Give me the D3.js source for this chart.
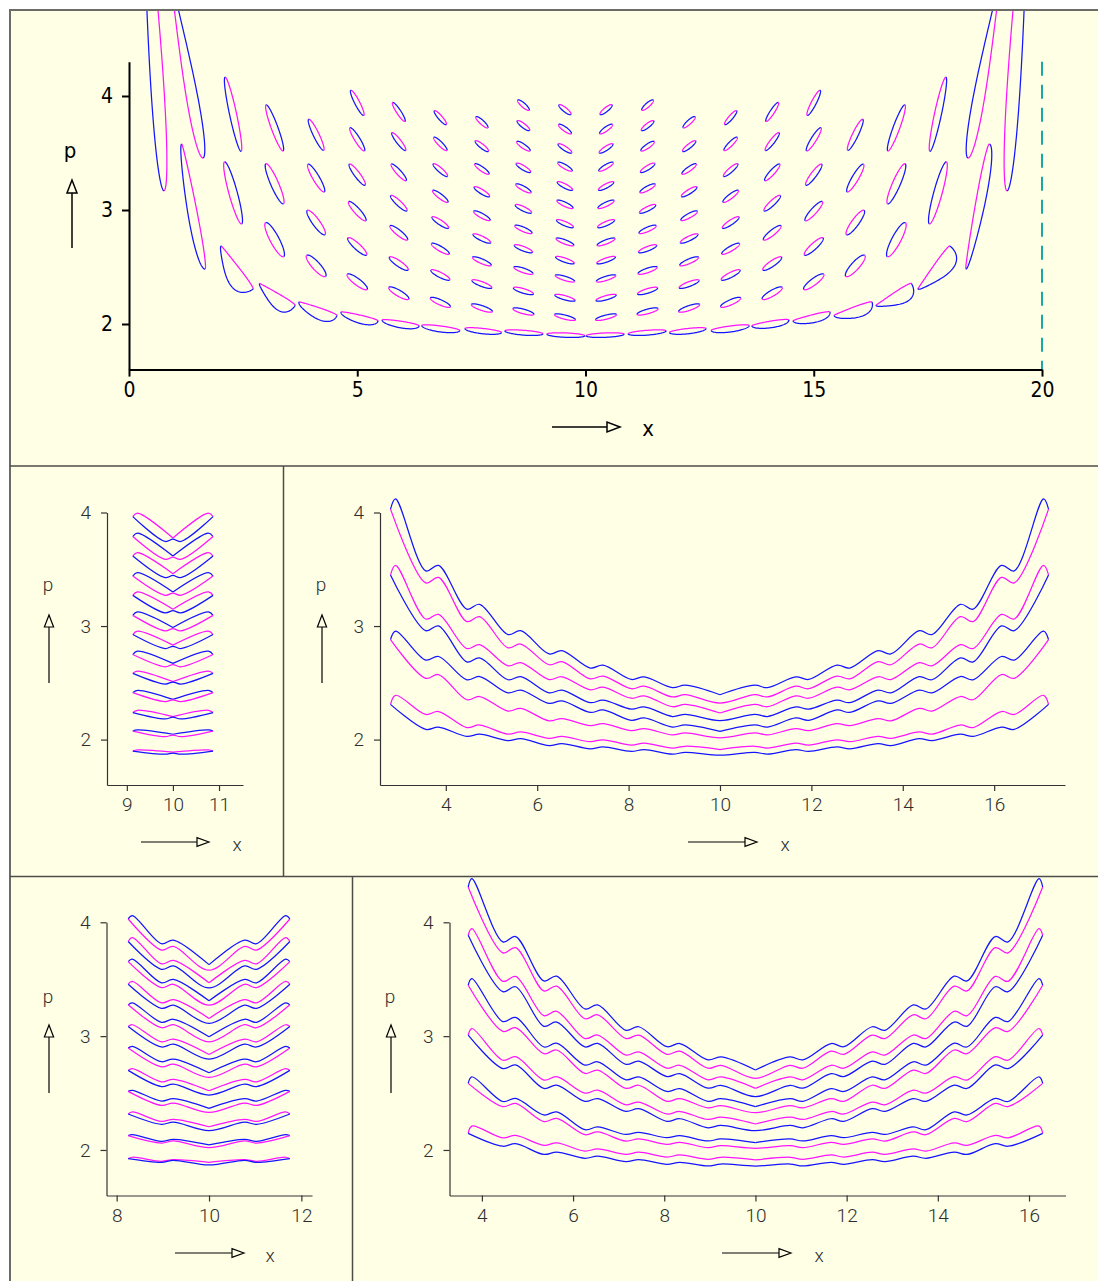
<!DOCTYPE html>
<html>
<head>
<meta charset="utf-8">
<script src="https://cdn.jsdelivr.net/npm/d3@7"></script>
<style>
  html, body { margin: 0; padding: 0; background: #ffffff; }
  svg { display: block; }
</style>
</head>
<body>
<script>
// ------------------------------------------------------------------
// Phase-space portraits (x, p) of a particle between walls at x = 0 and 20
// ------------------------------------------------------------------

// ---------- top panel: chains of resonance islands ----------
const islandColumnX = [2.28, 3.19, 4.10, 5.00, 5.91, 6.82, 7.73, 8.64, 9.55,
                       10.45, 11.36, 12.27, 13.18, 14.09, 15.00, 15.91, 16.81, 17.72];
// island centres in each column, top to bottom (the lowest chain is listed separately)
const islandColumnP = [
  [3.84, 3.15],
  [3.72, 3.23, 2.74],
  [3.66, 3.28, 2.89, 2.51],
  [3.94, 3.62, 3.31, 2.99, 2.68, 2.37],
  [3.86, 3.60, 3.33, 3.06, 2.80, 2.53, 2.27],
  [3.81, 3.58, 3.35, 3.12, 2.89, 2.66, 2.43, 2.19],
  [3.77, 3.56, 3.36, 3.16, 2.95, 2.75, 2.55, 2.35, 2.14],
  [3.92, 3.74, 3.56, 3.37, 3.19, 3.01, 2.83, 2.66, 2.47, 2.29, 2.11],
  [3.88, 3.71, 3.54, 3.38, 3.21, 3.05, 2.88, 2.72, 2.56, 2.40, 2.23, 2.06],
  [3.88, 3.71, 3.54, 3.38, 3.21, 3.05, 2.88, 2.72, 2.56, 2.40, 2.23, 2.06],
  [3.92, 3.74, 3.56, 3.37, 3.19, 3.01, 2.83, 2.66, 2.47, 2.29, 2.11],
  [3.77, 3.56, 3.36, 3.16, 2.95, 2.75, 2.55, 2.35, 2.14],
  [3.81, 3.58, 3.35, 3.12, 2.89, 2.66, 2.43, 2.19],
  [3.86, 3.60, 3.33, 3.06, 2.80, 2.53, 2.27],
  [3.94, 3.62, 3.31, 2.99, 2.68, 2.37],
  [3.66, 3.28, 2.89, 2.51],
  [3.72, 3.23, 2.74],
  [3.84, 3.15]
];
// half-axis (dx, dp) of the top and of the lowest island of each column
const islandReachTop = [
  [0.175, -0.325], [0.186, -0.202], [0.164, -0.136], [0.142, -0.110], [0.136, -0.083],
  [0.131, -0.061], [0.131, -0.048], [0.125, -0.044], [0.131, -0.042],
  [0.131, 0.042], [0.125, 0.044], [0.131, 0.048], [0.131, 0.061], [0.136, 0.083],
  [0.142, 0.110], [0.164, 0.136], [0.186, 0.202], [0.175, 0.325]
];
const islandReachLow = [
  [0.186, -0.272], [0.197, -0.149], [0.208, -0.092], [0.219, -0.066], [0.219, -0.051],
  [0.219, -0.039], [0.230, -0.031], [0.230, -0.025], [0.230, -0.023],
  [0.230, 0.023], [0.230, 0.025], [0.230, 0.031], [0.219, 0.039], [0.219, 0.051],
  [0.219, 0.066], [0.208, 0.092], [0.197, 0.149], [0.186, 0.272]
];
// lowest chain of islands (the U-shaped bottom row)
const chainX = [1.41, 2.37, 3.25, 4.14, 5.05, 5.95, 6.83, 7.76, 8.65, 9.57,
                10.43, 11.35, 12.24, 13.17, 14.05, 14.95, 15.86, 16.75, 17.63, 18.59];
const chainP = [3.03, 2.496, 2.259, 2.134, 2.066, 2.009, 1.965, 1.943, 1.927, 1.904,
                1.904, 1.927, 1.943, 1.965, 2.009, 2.066, 2.134, 2.259, 2.496, 3.03];
const chainReach = [
  [0.256, -0.548], [0.350, -0.189], [0.389, -0.0965], [0.416, -0.0592], [0.405, -0.039],
  [0.405, -0.026], [0.416, -0.022], [0.400, -0.0175], [0.416, -0.013], [0.416, -0.007],
  [0.416, 0.007], [0.416, 0.013], [0.400, 0.0175], [0.416, 0.022], [0.405, 0.026],
  [0.405, 0.039], [0.416, 0.0592], [0.389, 0.0965], [0.350, 0.189], [0.256, 0.548]
];
// long loops hugging the walls (they run off the top of the frame)
const wallLoopX = [0.416, 1.117, 18.883, 19.584];
const wallLoopP = [5.368, 4.579, 4.579, 5.368];
const wallLoopReach = [[0.35, -2.20], [0.504, -1.123], [-0.504, -1.123], [-0.35, -2.20]];
const wallLoopRank = [0, 1, 1, 0];

// ---------- middle-left panel ----------
const mlUpperX = [10];
const mlLowerX = [9.83, 10, 10.17];
const mlEndX = [9.13, 10.87];
const mlPeakX = [9.23, 10.77];
const mlEndP  = [3.964, 3.788, 3.616, 3.440, 3.270, 3.094, 2.925, 2.749, 2.583, 2.413, 2.238, 2.075, 1.899];
const mlPeakP = [3.994, 3.818, 3.646, 3.470, 3.300, 3.124, 2.955, 2.779, 2.603, 2.433, 2.258, 2.085, 1.909];
const mlUpper = [[3.775], [3.616], [3.461], [3.300], [3.148], [2.987], [2.832], [2.671],
                 [2.510], [2.354], [2.202], [2.047], [1.889]];
const mlLower = [
  [3.745, 3.765, 3.745], [3.587, 3.607, 3.587], [3.426, 3.446, 3.426], [3.271, 3.291, 3.271],
  [3.116, 3.136, 3.116], [2.958, 2.978, 2.958], [2.802, 2.822, 2.802], [2.641, 2.661, 2.641],
  [2.489, 2.507, 2.489], [2.334, 2.350, 2.334], [2.182, 2.197, 2.182], [2.026, 2.040, 2.026],
  [1.871, 1.881, 1.871]
];

// ---------- middle-right panel ----------
const mrNotchX = [3.7, 4.6, 5.5, 6.4, 7.3, 8.2, 9.1, 10, 10.9, 11.8, 12.7, 13.6, 14.5, 15.4, 16.3];
const mrEndX = [2.79, 17.19];
const mrPeakX = [2.90, 17.08];
const mrEndP  = [4.03, 3.45, 2.88, 2.31];
const mrPeakP = [4.12, 3.535, 2.956, 2.39];
const mrUpper = [
  [3.51, 3.17, 2.942, 2.769, 2.643, 2.541, 2.468, 2.395, 2.468, 2.541, 2.643, 2.769, 2.942, 3.17, 3.51],
  [3.082, 2.819, 2.664, 2.541, 2.45, 2.375, 2.30, 2.234, 2.30, 2.375, 2.45, 2.541, 2.664, 2.819, 3.082],
  [2.716, 2.541, 2.424, 2.33, 2.25, 2.18, 2.12, 2.073, 2.12, 2.18, 2.25, 2.33, 2.424, 2.541, 2.716],
  [2.234, 2.117, 2.058, 2.02, 1.99, 1.96, 1.933, 1.912, 1.933, 1.96, 1.99, 2.02, 2.058, 2.117, 2.234]
];
const mrLower = [
  [3.404, 3.061, 2.825, 2.673, 2.547, 2.459, 2.386, 2.322, 2.386, 2.459, 2.547, 2.673, 2.825, 3.061, 3.404],
  [2.98, 2.702, 2.541, 2.424, 2.336, 2.278, 2.213, 2.167, 2.213, 2.278, 2.336, 2.424, 2.541, 2.702, 2.98],
  [2.556, 2.365, 2.263, 2.175, 2.132, 2.088, 2.05, 2.015, 2.05, 2.088, 2.132, 2.175, 2.263, 2.365, 2.556],
  [2.10, 2.038, 2.0, 1.956, 1.927, 1.904, 1.88, 1.863, 1.88, 1.904, 1.927, 1.956, 2.0, 2.038, 2.10]
];

// ---------- bottom-left panel ----------
const blNotchX = [9.1, 10, 10.9];
const blEndX = [8.25, 11.75];
const blPeakX = [8.34, 11.66];
const blEndP  = [4.029, 3.831, 3.655, 3.456, 3.275, 3.085, 2.895, 2.699, 2.515, 2.316, 2.126, 1.924];
const blPeakP = [4.059, 3.866, 3.676, 3.480, 3.293, 3.100, 2.910, 2.714, 2.524, 2.334, 2.135, 1.936];
const blUpper = [
  [3.828, 3.628, 3.828], [3.650, 3.468, 3.650], [3.483, 3.310, 3.483], [3.306, 3.155, 3.306],
  [3.135, 2.994, 3.135], [2.962, 2.839, 2.962], [2.787, 2.678, 2.787], [2.610, 2.520, 2.610],
  [2.440, 2.365, 2.440], [2.260, 2.204, 2.260], [2.085, 2.044, 2.085], [1.908, 1.892, 1.908]
];
const blLower = [
  [3.772, 3.579, 3.772], [3.602, 3.424, 3.602], [3.441, 3.272, 3.441], [3.258, 3.111, 3.258],
  [3.087, 2.950, 3.087], [2.917, 2.798, 2.917], [2.742, 2.637, 2.742], [2.568, 2.482, 2.568],
  [2.402, 2.330, 2.402], [2.235, 2.170, 2.235], [2.070, 2.020, 2.070], [1.900, 1.868, 1.900]
];

// ---------- bottom-right panel ----------
const brNotchX = [4.6, 5.5, 6.4, 7.3, 8.2, 9.1, 10, 10.9, 11.8, 12.7, 13.6, 14.5, 15.4];
const brEndX = [3.70, 16.30];
const brPeakX = [3.78, 16.22];
const brEndP  = [4.31, 3.886, 3.447, 3.009, 2.585, 2.146];
const brPeakP = [4.383, 3.944, 3.506, 3.067, 2.643, 2.21];
const brUpper = [
  [3.851, 3.506, 3.257, 3.067, 2.921, 2.804, 2.702, 2.804, 2.921, 3.067, 3.257, 3.506, 3.851],
  [3.503, 3.199, 2.994, 2.848, 2.731, 2.629, 2.541, 2.629, 2.731, 2.848, 2.994, 3.199, 3.503],
  [3.146, 2.921, 2.760, 2.629, 2.526, 2.439, 2.380, 2.439, 2.526, 2.629, 2.760, 2.921, 3.146],
  [2.804, 2.629, 2.512, 2.409, 2.327, 2.278, 2.228, 2.278, 2.327, 2.409, 2.512, 2.629, 2.804],
  [2.439, 2.321, 2.190, 2.146, 2.117, 2.088, 2.064, 2.088, 2.117, 2.146, 2.190, 2.321, 2.439],
  [2.117, 2.052, 2.000, 1.971, 1.947, 1.927, 1.912, 1.927, 1.947, 1.971, 2.000, 2.052, 2.117]
];
const brLower = [
  [3.754, 3.418, 3.170, 2.994, 2.854, 2.731, 2.629, 2.731, 2.854, 2.994, 3.170, 3.418, 3.754],
  [3.412, 3.105, 2.921, 2.766, 2.658, 2.555, 2.468, 2.555, 2.658, 2.766, 2.921, 3.105, 3.412],
  [3.058, 2.862, 2.687, 2.555, 2.439, 2.380, 2.327, 2.380, 2.439, 2.555, 2.687, 2.862, 3.058],
  [2.731, 2.555, 2.439, 2.351, 2.263, 2.205, 2.170, 2.205, 2.263, 2.351, 2.439, 2.555, 2.731],
  [2.395, 2.263, 2.146, 2.088, 2.058, 2.029, 2.015, 2.029, 2.058, 2.088, 2.146, 2.263, 2.395],
  [2.044, 1.971, 1.936, 1.906, 1.883, 1.868, 1.859, 1.868, 1.883, 1.906, 1.936, 1.971, 2.044]
];

// ---------- tick labels ----------
const topXTicks = [0, 5, 10, 15, 20];
const pTicks = [2, 3, 4];
const mlXTicks = [9, 10, 11];
const mrXTicks = [4, 6, 8, 10, 12, 14, 16];
const blXTicks = [8, 10, 12];
const brXTicks = [4, 6, 8, 10, 12, 14, 16];

// ------------------------------------------------------------------
// styling and layout
// ------------------------------------------------------------------
const PAL = {
  page: '#ffffe6', frame: '#6c6c66', divider: '#4c4c48',
  blue: '#1414ff', magenta: '#ff14ff', wall: '#17a8a8',
  ink: '#000000', inkLight: '#2e2e2e'
};
const CURVE_W = 1.25;
const FONT_TOP = '"DejaVu Sans Condensed", "Liberation Sans", sans-serif';
const FONT_THIN = 'Roboto, "DejaVu Sans Condensed", sans-serif';

// outline thickness of the top-panel islands (px): [top island, lowest island] per column
const islandHalfWidth = [
  [3.5, 4.2], [3.3, 4.5], [2.9, 4.0], [2.5, 3.3], [2.2, 3.0], [2.1, 2.6], [2.1, 2.4], [2.1, 2.3], [2.1, 2.1],
  [2.1, 2.1], [2.1, 2.3], [2.1, 2.4], [2.1, 2.6], [2.2, 3.0], [2.5, 3.3], [2.9, 4.0], [3.3, 4.5], [3.5, 4.2]
];
// lowest chain: [upper half-width, lower half-width, egg factor]
const chainShape = [
  [2.6, 6.5, 0.3], [1.2, 14, 0.6], [1.2, 11.5, 0.6], [1.3, 9.5, 0.35], [1.5, 6.5, 0.2],
  [1.8, 4.8, 0.1], [2.0, 4.0, 0], [2.0, 3.3, 0], [2.0, 2.8, 0], [2.0, 2.4, 0],
  [2.0, 2.4, 0], [2.0, 2.8, 0], [2.0, 3.3, 0], [2.0, 4.0, 0], [1.8, 4.8, 0.1],
  [1.5, 6.5, 0.2], [1.3, 9.5, 0.35], [1.2, 11.5, 0.6], [1.2, 14, 0.6], [2.6, 6.5, 0.3]
];
const wallLoopShape = [[3.7, 2.0], [3.1, 2.2], [3.1, 2.2], [3.7, 2.0]];

const W = 1098, H = 1281;
const svg = d3.select('body').append('svg')
  .attr('width', W).attr('height', H)
  .attr('viewBox', `0 0 ${W} ${H}`);

// page and frame
svg.append('rect').attr('x', 0).attr('y', 0).attr('width', W).attr('height', H).attr('fill', '#ffffff');
svg.append('rect').attr('x', 10).attr('y', 10).attr('width', W + 20).attr('height', H + 20)
  .attr('fill', PAL.page).attr('stroke', PAL.frame).attr('stroke-width', 2);
const dividers = svg.append('g').attr('stroke', PAL.divider).attr('stroke-width', 1.5);
dividers.append('line').attr('x1', 10).attr('x2', W).attr('y1', 466).attr('y2', 466);
dividers.append('line').attr('x1', 10).attr('x2', W).attr('y1', 876.5).attr('y2', 876.5);
dividers.append('line').attr('x1', 283.5).attr('x2', 283.5).attr('y1', 466).attr('y2', 876.5);
dividers.append('line').attr('x1', 352.5).attr('x2', 352.5).attr('y1', 876.5).attr('y2', H);

// ------------------------------------------------------------------
// helpers
// ------------------------------------------------------------------
function drawAxes(g, xs, ps, xTicks, st) {
  const ax = d3.axisBottom(xs).tickValues(xTicks).tickSize(st.tick).tickSizeOuter(0)
    .tickPadding(st.xPad).tickFormat(d3.format('d'));
  const ay = d3.axisLeft(ps).tickValues(pTicks).tickSize(st.tick).tickSizeOuter(0)
    .tickPadding(st.yPad).tickFormat(d3.format('d'));
  const gx = g.append('g').attr('transform', `translate(0,${ps.range()[0]})`).call(ax);
  const gy = g.append('g').attr('transform', `translate(${xs.range()[0]},0)`).call(ay);
  [gx, gy].forEach(a => {
    a.select('.domain').attr('stroke', st.color).attr('stroke-width', st.width);
    a.selectAll('.tick line').attr('stroke', st.color).attr('stroke-width', st.width);
    a.selectAll('.tick text').attr('font-family', st.font).attr('font-size', st.size)
      .attr('font-weight', st.weight).attr('fill', st.textColor);
  });
}

function arrowUp(g, x, yBottom, yTip, head, half, sw) {
  g.append('line').attr('x1', x).attr('x2', x).attr('y1', yBottom).attr('y2', yTip + head)
    .attr('stroke', PAL.ink).attr('stroke-width', sw);
  g.append('path').attr('d', `M${x},${yTip}L${x - half},${yTip + head}L${x + half},${yTip + head}Z`)
    .attr('fill', PAL.page).attr('stroke', PAL.ink).attr('stroke-width', sw);
}
function arrowRight(g, xStart, xTip, y, head, half, sw) {
  g.append('line').attr('x1', xStart).attr('x2', xTip - head).attr('y1', y).attr('y2', y)
    .attr('stroke', PAL.ink).attr('stroke-width', sw);
  g.append('path').attr('d', `M${xTip},${y}L${xTip - head},${y - half}L${xTip - head},${y + half}Z`)
    .attr('fill', PAL.page).attr('stroke', PAL.ink).attr('stroke-width', sw);
}
function label(g, text, x, y, st) {
  g.append('text').attr('x', x).attr('y', y).attr('text-anchor', 'middle')
    .attr('font-family', st.font).attr('font-size', st.size).attr('font-weight', st.weight)
    .attr('fill', st.textColor).text(text);
}

// island outline split along its long axis into an upper and a lower half
function drawIsland(g, xs, ps, cx, cp, reach, bUp, bLow, egg, rank) {
  const X0 = xs(cx), Y0 = ps(cp);
  const Tx = xs(cx + reach[0]) - X0, Ty = ps(cp + reach[1]) - Y0;
  const L = Math.hypot(Tx, Ty);
  let Nx = Ty / L, Ny = -Tx / L;
  if (Ny > 0) { Nx = -Nx; Ny = -Ny; }
  const half = (t0, b) => d3.range(0, 61).map(i => {
    const t = t0 + Math.PI * i / 60;
    const w = b * Math.max(0, 1 + egg * Math.cos(t)) * Math.sin(t);
    return [X0 + Tx * Math.cos(t) + Nx * w, Y0 + Ty * Math.cos(t) + Ny * w];
  });
  const upColor = rank % 2 === 0 ? PAL.magenta : PAL.blue;
  const loColor = rank % 2 === 0 ? PAL.blue : PAL.magenta;
  const line = d3.line();
  g.append('path').attr('d', line(half(0, bUp))).attr('fill', 'none')
    .attr('stroke', upColor).attr('stroke-width', CURVE_W);
  g.append('path').attr('d', line(half(Math.PI, bLow))).attr('fill', 'none')
    .attr('stroke', loColor).attr('stroke-width', CURVE_W);
}

// wavy closed bands: upper and lower branch joined at the two end points.
// Each listed level gets a small kink (dip then bump); the kink is deeper where the band is steep.
function drawBands(g, xs, ps, spec) {
  const line = d3.line().x(d => xs(d[0])).y(d => ps(d[1])).curve(d3.curveCatmullRom.alpha(0.5));
  const core = (xList, vals) => {
    const pts = [];
    xList.forEach((x, j) => {
      const v = vals[j];
      if (spec.ripple && x !== 10) {
        const jl = Math.max(0, j - 1), jr = Math.min(xList.length - 1, j + 1);
        const slope = Math.abs((vals[jr] - vals[jl]) / (xList[jr] - xList[jl]));
        const dp = spec.ripple.base + spec.ripple.gain * slope;
        const s = x < 10 ? 1 : -1;
        pts.push([x - spec.ripple.dx, v - s * dp], [x + spec.ripple.dx, v + s * dp]);
      } else {
        pts.push([x, v]);
      }
    });
    return pts;
  };
  spec.upper.forEach((upVals, i) => {
    const upperBlue = (i % 2 === 0) === spec.firstUpperBlue;
    const upColor = upperBlue ? PAL.blue : PAL.magenta;
    const loColor = upperBlue ? PAL.magenta : PAL.blue;
    const eL = [spec.endX[0], spec.endP[i]], eR = [spec.endX[1], spec.endP[i]];
    const pkL = [spec.peakX[0], spec.peakP[i]], pkR = [spec.peakX[1], spec.peakP[i]];
    const up = [eL, pkL, ...core(spec.upperX, upVals), pkR, eR];
    const mid = up.findIndex(d => d[0] === 10);
    // the upper branch pinches at x = 10, so each half ends exactly there
    const upLeft = up.slice(0, mid + 1), upRight = up.slice(mid);
    const lo = [eL, ...core(spec.lowerX, spec.lower[i]), eR];
    [upLeft, upRight].forEach(seg => g.append('path').attr('d', line(seg)).attr('fill', 'none')
      .attr('stroke', upColor).attr('stroke-width', CURVE_W));
    g.append('path').attr('d', line(lo)).attr('fill', 'none')
      .attr('stroke', loColor).attr('stroke-width', CURVE_W);
  });
}

// ------------------------------------------------------------------
// top panel
// ------------------------------------------------------------------
{
  const g = svg.append('g');
  const xs = d3.scaleLinear().domain([0, 20]).range([129, 1042]);
  const ps = d3.scaleLinear().domain([1.6, 4.3]).range([369.6, 61.8]);
  svg.append('defs').append('clipPath').attr('id', 'topClip')
    .append('rect').attr('x', 11).attr('y', 11).attr('width', W - 11).attr('height', 454);
  const marks = g.append('g').attr('clip-path', 'url(#topClip)');

  // wall at x = 20
  marks.append('line').attr('x1', xs(20)).attr('x2', xs(20)).attr('y1', ps(4.3)).attr('y2', ps(1.6))
    .attr('stroke', PAL.wall).attr('stroke-width', 2).attr('stroke-dasharray', '14 9');

  wallLoopX.forEach((x, i) => drawIsland(marks, xs, ps, x, wallLoopP[i], wallLoopReach[i],
    wallLoopShape[i][0], wallLoopShape[i][0], wallLoopShape[i][1], wallLoopRank[i]));

  chainX.forEach((x, i) => drawIsland(marks, xs, ps, x, chainP[i], chainReach[i],
    chainShape[i][0], chainShape[i][1], chainShape[i][2], 0));

  islandColumnX.forEach((x, c) => {
    const col = islandColumnP[c];
    const n = col.length;
    col.forEach((p, i) => {
      const f = n > 1 ? i / (n - 1) : 0;
      const reach = [
        islandReachTop[c][0] + f * (islandReachLow[c][0] - islandReachTop[c][0]),
        islandReachTop[c][1] + f * (islandReachLow[c][1] - islandReachTop[c][1])
      ];
      const b = islandHalfWidth[c][0] + f * (islandHalfWidth[c][1] - islandHalfWidth[c][0]);
      drawIsland(marks, xs, ps, x, p, reach, b, b, 0, n - i);
    });
  });

  const st = { tick: 7, xPad: 5, yPad: 9, color: PAL.ink, width: 2, font: FONT_TOP,
               size: 21, weight: 'normal', textColor: PAL.ink };
  drawAxes(g, xs, ps, topXTicks, st);
  arrowUp(g, 72, 248, 180, 13, 5, 1.5);
  arrowRight(g, 552, 620, 427, 13, 5, 1.5);
  label(g, 'p', 70, 158, { font: FONT_TOP, size: 22, weight: 'normal', textColor: PAL.ink });
  label(g, 'x', 648, 436, { font: FONT_TOP, size: 22, weight: 'normal', textColor: PAL.ink });
}

// ------------------------------------------------------------------
// lower four panels
// ------------------------------------------------------------------
const thinAxis = { tick: 6, xPad: 7, yPad: 10, color: '#333333', width: 1.2, font: FONT_THIN,
                   size: 19, weight: 300, textColor: PAL.inkLight };
const thinText = { font: FONT_THIN, size: 19, weight: 300, textColor: PAL.inkLight };

// middle-left
{
  const g = svg.append('g');
  const xs = d3.scaleLinear().domain([8.57, 11.52]).range([107, 243]);
  const ps = d3.scaleLinear().domain([1.6, 4.0]).range([785, 512.5]);
  drawBands(g, xs, ps, {
    upperX: mlUpperX, lowerX: mlLowerX, upper: mlUpper, lower: mlLower,
    endX: mlEndX, peakX: mlPeakX, endP: mlEndP, peakP: mlPeakP, ripple: null, firstUpperBlue: false
  });
  drawAxes(g, xs, ps, mlXTicks, thinAxis);
  arrowUp(g, 49, 683, 615, 12, 4.6, 1.2);
  arrowRight(g, 141, 209, 842, 12, 4.3, 1.2);
  label(g, 'p', 48, 591, thinText);
  label(g, 'x', 237, 851, thinText);
}

// middle-right
{
  const g = svg.append('g');
  const xs = d3.scaleLinear().domain([2.56, 17.55]).range([380, 1065]);
  const ps = d3.scaleLinear().domain([1.6, 4.0]).range([785, 512.5]);
  drawBands(g, xs, ps, {
    upperX: mrNotchX, lowerX: mrNotchX, upper: mrUpper, lower: mrLower,
    endX: mrEndX, peakX: mrPeakX, endP: mrEndP, peakP: mrPeakP,
    ripple: { dx: 0.14, base: 0.007, gain: 0.045 }, firstUpperBlue: true
  });
  drawAxes(g, xs, ps, mrXTicks, thinAxis);
  arrowUp(g, 322, 683, 615, 12, 4.6, 1.2);
  arrowRight(g, 688, 757, 842, 12, 4.3, 1.2);
  label(g, 'p', 321, 591, thinText);
  label(g, 'x', 785, 851, thinText);
}

// bottom-left
{
  const g = svg.append('g');
  const xs = d3.scaleLinear().domain([7.78, 12.23]).range([106.5, 312]);
  const ps = d3.scaleLinear().domain([1.6, 4.0]).range([1195.5, 922.3]);
  drawBands(g, xs, ps, {
    upperX: blNotchX, lowerX: blNotchX, upper: blUpper, lower: blLower,
    endX: blEndX, peakX: blPeakX, endP: blEndP, peakP: blPeakP,
    ripple: { dx: 0.13, base: 0.007, gain: 0.04 }, firstUpperBlue: true
  });
  drawAxes(g, xs, ps, blXTicks, thinAxis);
  arrowUp(g, 49, 1093, 1025, 12, 4.6, 1.2);
  arrowRight(g, 175, 244, 1253, 12, 4.3, 1.2);
  label(g, 'p', 48, 1003, thinText);
  label(g, 'x', 270, 1262, thinText);
}

// bottom-right
{
  const g = svg.append('g');
  const xs = d3.scaleLinear().domain([3.29, 16.8]).range([449.5, 1065.5]);
  const ps = d3.scaleLinear().domain([1.6, 4.0]).range([1195.5, 922.3]);
  drawBands(g, xs, ps, {
    upperX: brNotchX, lowerX: brNotchX, upper: brUpper, lower: brLower,
    endX: brEndX, peakX: brPeakX, endP: brEndP, peakP: brPeakP,
    ripple: { dx: 0.14, base: 0.008, gain: 0.04 }, firstUpperBlue: true
  });
  drawAxes(g, xs, ps, brXTicks, thinAxis);
  arrowUp(g, 391, 1093, 1025, 12, 4.6, 1.2);
  arrowRight(g, 722, 791, 1253, 12, 4.3, 1.2);
  label(g, 'p', 390, 1003, thinText);
  label(g, 'x', 819, 1262, thinText);
}
</script>
</body>
</html>
